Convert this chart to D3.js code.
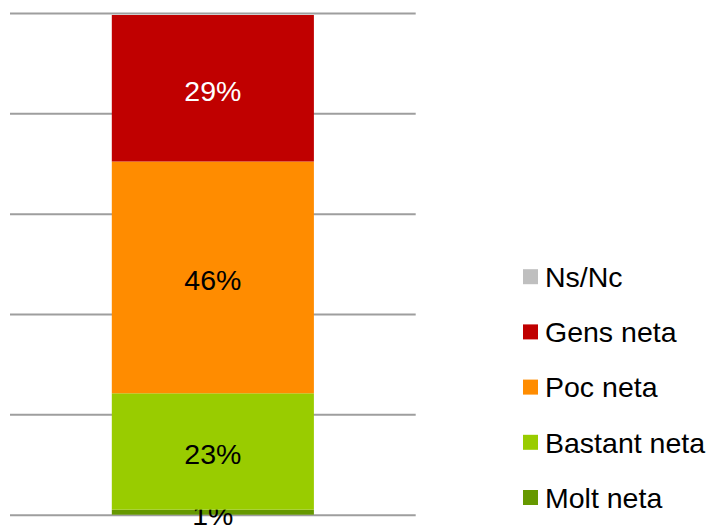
<!DOCTYPE html>
<meta charset="utf-8">
<head>
    <title>Stacked bar</title>
    <script src="https://d3js.org/d3.v7.min.js"></script>
    <style>
        body { margin: 0; background: #fff; }
        text { font-family: "Liberation Sans", Arial, sans-serif; }
    </style>
</head>
<body>
<script>
    // chart data
    var categories = ["Total"];
    var seriesNames = ["Molt neta", "Bastant neta", "Poc neta", "Gens neta", "Ns/Nc"];
    var seriesValues = [1.0, 23.2, 46.2, 29.2, 0];
    var seriesColors = ["#669900", "#99cc00", "#ff8c00", "#c00000", "#bfbfbf"];
    var labelColors = ["#000", "#000", "#000", "#fff", "#000"];
    var gridTicks = [0, 20, 40, 60, 80, 100];

    var width = 713,
        height = 527;

    var svg = d3.select("body").append("svg")
        .attr("width", width)
        .attr("height", height);

    var y = d3.scaleLinear().domain([0, 100]).range([514.7, 13]);
    var x = d3.scaleBand().domain(categories).range([10, 415.7]).padding(0.335);

    // gridlines
    svg.append("g")
        .attr("transform", "translate(415.7,0)")
        .call(d3.axisLeft(y).tickValues(gridTicks).tickSize(405.7).tickFormat(""))
        .call(function (g) { g.select(".domain").remove(); })
        .selectAll("line")
        .attr("stroke", "#9e9e9e")
        .attr("stroke-width", 2);

    // stack the series
    var row = {};
    seriesNames.forEach(function (n, i) { row[n] = seriesValues[i]; });
    var stacked = d3.stack().keys(seriesNames)([row]);

    var seg = svg.append("g").selectAll("g")
        .data(stacked)
        .enter().append("g");

    seg.append("rect")
        .attr("x", x(categories[0]))
        .attr("width", x.bandwidth())
        .attr("y", function (d) { return y(d[0][1]); })
        .attr("height", function (d) { return y(d[0][0]) - y(d[0][1]); })
        .attr("fill", function (d, i) { return seriesColors[i]; });

    seg.filter(function (d) { return d[0][1] - d[0][0] > 0; })
        .append("text")
        .attr("x", x(categories[0]) + x.bandwidth() / 2)
        .attr("y", function (d) { return (y(d[0][0]) + y(d[0][1])) / 2; })
        .attr("dy", "0.45em")
        .attr("text-anchor", "middle")
        .style("font-size", "28.5px")
        .attr("fill", function (d) { return labelColors[d.index]; })
        .text(function (d) { return Math.round(d[0][1] - d[0][0]) + "%"; });

    // legend, top to bottom in reverse stack order
    var legendItems = seriesNames.slice().reverse();
    var legendColors = seriesColors.slice().reverse();

    var legend = svg.append("g").selectAll("g")
        .data(legendItems)
        .enter().append("g")
        .attr("transform", function (d, i) { return "translate(523," + (276.7 + i * 55.2) + ")"; });

    legend.append("rect")
        .attr("x", 0)
        .attr("y", -7.5)
        .attr("width", 15)
        .attr("height", 15)
        .attr("fill", function (d, i) { return legendColors[i]; });

    legend.append("text")
        .attr("x", 22)
        .attr("dy", "0.36em")
        .style("font-size", "28.5px")
        .attr("fill", "#000")
        .text(function (d) { return d; });
</script>
</body>
</html>
